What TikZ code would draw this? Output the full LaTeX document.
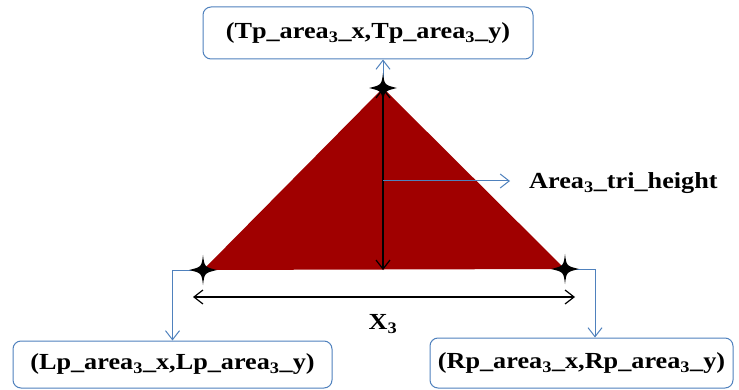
\documentclass[tikz,border=0pt]{standalone}
\usepackage{fontspec}
\setmainfont{Liberation Serif}
\usetikzlibrary{arrows.meta}
\definecolor{tri}{RGB}{160,0,0}
\definecolor{lblue}{RGB}{79,129,189}
\newcommand{\sub}[1]{\textsubscript{#1}}
\newcommand{\wide}[1]{\scalebox{1.14}[1]{#1}}
\begin{document}
\begin{tikzpicture}[x=1pt,y=-1pt,
  bx/.style={draw=lblue,line width=1pt,rounded corners=8pt,fill=white,inner sep=0pt,
             font=\fontsize{23}{26}\selectfont\bfseries},
  lbl/.style={font=\fontsize{23}{26}\selectfont\bfseries,inner sep=0pt},
  bconn/.style={draw=lblue,line width=1pt,-{Straight Barb[length=9pt,width=14pt,line width=1pt]}},
  kconn/.style={draw=black,line width=1.2pt,{Straight Barb[length=9pt,width=14pt,line width=1.2pt]}-{Straight Barb[length=9pt,width=14pt,line width=1.2pt]}},
  starmark/.pic={\fill[black] (0,-15) .. controls (1.5,-3) .. (14,0) .. controls (1.5,3) .. (0,15) .. controls (-1.5,3) .. (-14,0) .. controls (-1.5,-3) .. cycle;}
]
\useasboundingbox (0,0) rectangle (739,390);
% triangle
\coordinate (A) at (383,88);
\coordinate (L) at (203,270);
\coordinate (R) at (565,269);
\fill[tri] (A) -- (R) -- (L) -- cycle;
% boxes
\node[bx,minimum width=330,minimum height=52] (tbox) at (368,33) {\wide{(Tp\_area\sub{3}\_x,Tp\_area\sub{3}\_y)}};
\node[bx,minimum width=319,minimum height=47] (lbox) at (172.5,364.5) {\wide{(Lp\_area\sub{3}\_x,Lp\_area\sub{3}\_y)}};
\node[bx,minimum width=303,minimum height=50] (rbox) at (581.5,363) {\wide{(Rp\_area\sub{3}\_x,Rp\_area\sub{3}\_y)}};
% height
\coordinate (B) at (383,270);
\draw[kconn] (A) -- (B);
\coordinate (hs) at (383,181);
\coordinate (he) at (510,181);
\draw[bconn] (hs) -- (he);
\node[lbl,anchor=west] (hl) at (529,183) {\wide{Area\sub{3}\_tri\_height}};
% base
\coordinate (X1) at (193,297);
\coordinate (X2) at (575,297);
\draw[kconn] (X1) -- (X2);
\node[lbl] (xl) at (383,324) {\wide{X\sub{3}}};
% blue connectors
\draw[bconn] (L) -| (lbox.north);
\coordinate (rc) at (595,269);
\draw[bconn] (R) -- (rc) -- (rc |- rbox.north);
\draw[bconn] (A) -- (A |- tbox.south);
% stars
\pic at (A) {starmark};
\pic at (L) {starmark};
\pic at (R) {starmark};
\end{tikzpicture}
\end{document}
